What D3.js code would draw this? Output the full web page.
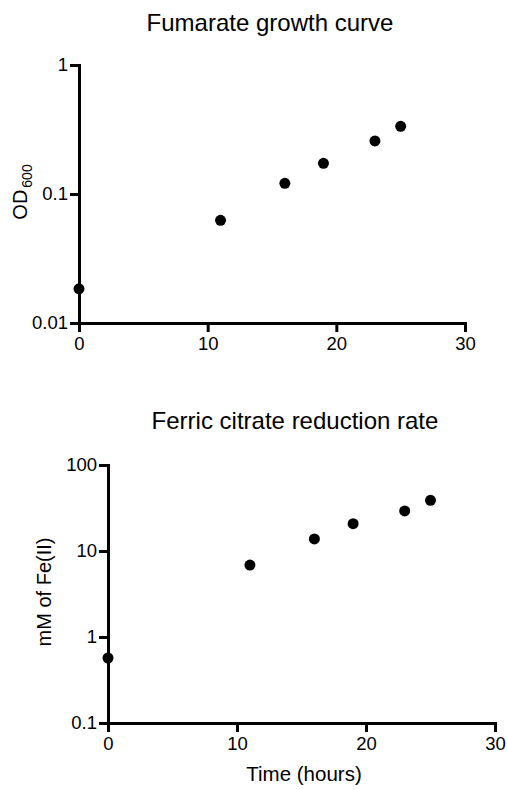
<!DOCTYPE html>
<html lang="en">
<head>
    <meta charset="UTF-8">
    <title>Fumarate growth curve / Ferric citrate reduction rate</title>
    <script src="https://d3js.org/d3.v7.min.js"></script>
    <style>
        body {
            margin: 0;
            background: white;
        }
        svg text {
            font-family: "Liberation Sans", Arial, sans-serif;
            fill: black;
        }
        .axis path, .axis line {
            stroke: black;
            stroke-width: 3;
        }
        .axis text {
            font-size: 18.5px;
        }
    </style>
</head>
<body>
    <svg id="chart" width="507" height="790"></svg>
    <script>
        // data
        const hours = [0, 11, 16, 19, 23, 25];
        const od600 = [0.0184, 0.0625, 0.121, 0.173, 0.258, 0.335];
        const fe2 = [0.57, 6.87, 13.8, 20.8, 29.2, 38.9];

        const xTicks = [0, 10, 20, 30];
        const odTicks = [0.01, 0.1, 1];
        const feTicks = [0.1, 1, 10, 100];

        const svg = d3.select("#chart");

        // one panel: log y, linear x
        function panel(opts) {
            const x = d3.scaleLinear().domain([0, 30]).range([opts.left, opts.right]);
            const y = d3.scaleLog().domain(opts.yDomain).range([opts.bottom, opts.top]);

            svg.append("g")
                .attr("class", "axis")
                .attr("transform", "translate(0," + opts.bottom + ")")
                .call(d3.axisBottom(x).tickValues(xTicks).tickSize(9).tickSizeOuter(0).tickPadding(5).tickFormat(d3.format("d")));

            svg.append("g")
                .attr("class", "axis")
                .attr("transform", "translate(" + opts.left + ",0)")
                .call(d3.axisLeft(y).tickValues(opts.yTicks).tickSize(9).tickSizeOuter(0).tickPadding(2).tickFormat(d => String(d)));

            svg.selectAll(".axis path").attr("stroke-linecap", "square");

            svg.append("g")
                .selectAll("circle")
                .data(hours)
                .enter()
                .append("circle")
                .attr("cx", d => x(d))
                .attr("cy", (d, i) => y(opts.values[i]))
                .attr("r", 5.5)
                .attr("fill", "black");

            svg.append("text")
                .attr("x", opts.titleX)
                .attr("y", opts.titleY)
                .attr("text-anchor", "middle")
                .attr("font-size", 24)
                .text(opts.title);
        }

        panel({
            left: 79, right: 465, top: 65, bottom: 323,
            yDomain: [0.01, 1], yTicks: odTicks, values: od600,
            title: "Fumarate growth curve", titleX: 270, titleY: 31
        });

        panel({
            left: 108, right: 495, top: 465, bottom: 723,
            yDomain: [0.1, 100], yTicks: feTicks, values: fe2,
            title: "Ferric citrate reduction rate", titleX: 295, titleY: 429
        });

        // y label top: OD with subscript 600
        const odLabel = svg.append("text")
            .attr("transform", "translate(27,192) rotate(-90)")
            .attr("text-anchor", "middle")
            .attr("font-size", 20);
        odLabel.append("tspan").text("OD");
        odLabel.append("tspan").attr("font-size", 14).attr("dy", 5).attr("dx", 2).text("600");

        svg.append("text")
            .attr("transform", "translate(51,592) rotate(-90)")
            .attr("text-anchor", "middle")
            .attr("font-size", 20)
            .text("mM of Fe(II)");

        svg.append("text")
            .attr("x", 304)
            .attr("y", 781)
            .attr("text-anchor", "middle")
            .attr("font-size", 20.5)
            .text("Time (hours)");
    </script>
</body>
</html>
